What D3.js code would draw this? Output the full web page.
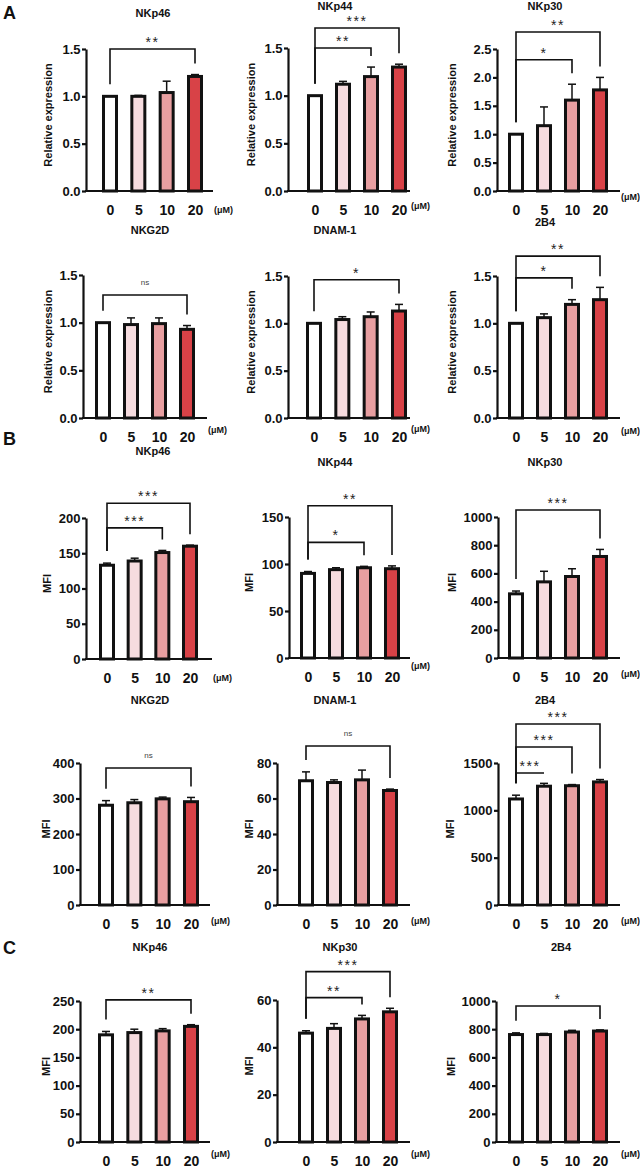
<!DOCTYPE html>
<html>
<head>
<meta charset="utf-8">
<script src="https://cdn.jsdelivr.net/npm/d3@7"></script>
<style>
  body { margin: 0; background: #fff; }
  svg { display: block; font-family: 'Liberation Sans', Arial, sans-serif; }
</style>
</head>
<body>
<svg width="640" height="1168"></svg>
<script>
const doses = ['0', '5', '10', '20'];
const barColors = ['#ffffff', '#f6dcdf', '#e89fa1', '#d84247'];

// A - relative expression
const aTitles = ['NKp46', 'NKp44', 'NKp30', 'NKG2D', 'DNAM-1', '2B4'];
const aMeans = [
  [1.0, 1.0, 1.04, 1.21],
  [1.0, 1.12, 1.2, 1.3],
  [1.0, 1.15, 1.6, 1.78],
  [1.0, 0.98, 0.99, 0.93],
  [1.0, 1.04, 1.07, 1.13],
  [1.0, 1.06, 1.2, 1.25]
];
const aErrors = [
  [0, 0.01, 0.12, 0.02],
  [0, 0.03, 0.1, 0.03],
  [0, 0.33, 0.28, 0.22],
  [0, 0.07, 0.06, 0.04],
  [0, 0.03, 0.05, 0.07],
  [0, 0.04, 0.05, 0.13]
];
const aTicks = [
  [0, 0.5, 1.0, 1.5],
  [0, 0.5, 1.0, 1.5],
  [0, 0.5, 1.0, 1.5, 2.0, 2.5],
  [0, 0.5, 1.0, 1.5],
  [0, 0.5, 1.0, 1.5],
  [0, 0.5, 1.0, 1.5]
];
// [target dose index, label, bracket level]
const aSig = [
  [[3, '**', 1.5]],
  [[2, '**', 1.5], [3, '***', 1.71]],
  [[2, '*', 2.31], [3, '**', 2.8]],
  [[3, 'ns', 1.29]],
  [[3, '*', 1.46]],
  [[2, '*', 1.48], [3, '**', 1.71]]
];

// B - MFI
const bTitles = ['NKp46', 'NKp44', 'NKp30', 'NKG2D', 'DNAM-1', '2B4'];
const bMeans = [
  [133, 139, 151, 160],
  [90, 94, 96, 95],
  [455, 540, 578, 720],
  [281, 288, 299, 291],
  [70, 69, 70.5, 64.5],
  [1120, 1255, 1260, 1300]
];
const bErrors = [
  [3, 4, 3, 1.5],
  [2, 2, 1.5, 3],
  [20, 75, 55, 50],
  [13, 9, 5, 12],
  [5, 1.5, 5.5, 0.8],
  [40, 30, 12, 25]
];
const bTicks = [
  [0, 50, 100, 150, 200],
  [0, 50, 100, 150],
  [0, 200, 400, 600, 800, 1000],
  [0, 100, 200, 300, 400],
  [0, 20, 40, 60, 80],
  [0, 500, 1000, 1500]
];
const bSig = [
  [[2, '***', 186], [3, '***', 221]],
  [[2, '*', 123], [3, '**', 162]],
  [[3, '***', 1050]],
  [[3, 'ns', 386]],
  [[3, 'ns', 89.6]],
  [[1, '***', 1394], [2, '***', 1669], [3, '***', 1912]]
];

// C - MFI
const cTitles = ['NKp46', 'NKp30', '2B4'];
const cMeans = [
  [190, 194, 197, 205],
  [46, 48, 52, 55],
  [762, 762, 780, 787]
];
const cErrors = [
  [6, 6, 4, 3],
  [1, 2, 1.5, 1.5],
  [12, 8, 12, 8]
];
const cTicks = [
  [0, 50, 100, 150, 200, 250],
  [0, 20, 40, 60],
  [0, 200, 400, 600, 800, 1000]
];
const cSig = [
  [[3, '**', 252]],
  [[2, '**', 61], [3, '***', 72]],
  [[3, '*', 965]]
];

// layout of every panel (pixels)
const layoutA = [
  { axisX: 86, top: 49, bottom: 191, bar0: 110, bar3: 195, xEnd: 213, titleX: 153, titleY: 13, labelX: 49, unitY: 209 },
  { axisX: 288, top: 48, bottom: 191, bar0: 315, bar3: 399, xEnd: 410, titleX: 335, titleY: 6, labelX: 252, unitY: 205 },
  { axisX: 497, top: 49, bottom: 191, bar0: 516, bar3: 600, xEnd: 620, titleX: 545, titleY: 6, labelX: 453, unitY: 196 },
  { axisX: 83, top: 275, bottom: 418, bar0: 103, bar3: 187, xEnd: 207, titleX: 150, titleY: 230, labelX: 49, unitY: 429 },
  { axisX: 288, top: 276, bottom: 418, bar0: 314, bar3: 399, xEnd: 410, titleX: 335, titleY: 230, labelX: 252, unitY: 428 },
  { axisX: 497, top: 276, bottom: 418, bar0: 516, bar3: 600, xEnd: 620, titleX: 545, titleY: 222, labelX: 453, unitY: 430 }
];
const layoutB = [
  { axisX: 86, top: 518, bottom: 659, bar0: 107, bar3: 190, xEnd: 212, titleX: 153, titleY: 451, labelX: 48, unitY: 677 },
  { axisX: 289, top: 517, bottom: 658, bar0: 308, bar3: 392, xEnd: 410, titleX: 335, titleY: 462, labelX: 250, unitY: 665 },
  { axisX: 498, top: 517, bottom: 658, bar0: 516, bar3: 600, xEnd: 620, titleX: 545, titleY: 462, labelX: 453, unitY: 673 },
  { axisX: 80, top: 763, bottom: 905, bar0: 106, bar3: 191, xEnd: 210, titleX: 150, titleY: 700, labelX: 47, unitY: 920 },
  { axisX: 277, top: 763, bottom: 905, bar0: 306, bar3: 390, xEnd: 410, titleX: 335, titleY: 700, labelX: 250, unitY: 920 },
  { axisX: 498, top: 763, bottom: 905, bar0: 516, bar3: 600, xEnd: 620, titleX: 545, titleY: 700, labelX: 451, unitY: 920 }
];
const layoutC = [
  { axisX: 80, top: 1001, bottom: 1142, bar0: 106, bar3: 191, xEnd: 210, titleX: 150, titleY: 947, labelX: 47, unitY: 1153 },
  { axisX: 277, top: 1000, bottom: 1142, bar0: 306, bar3: 390, xEnd: 410, titleX: 340, titleY: 947, labelX: 250, unitY: 1153 },
  { axisX: 496, top: 1001, bottom: 1142, bar0: 516, bar3: 600, xEnd: 620, titleX: 561, titleY: 947, labelX: 452, unitY: 1153 }
];

const svg = d3.select('svg');
svg.append('rect').attr('width', 640).attr('height', 1168).attr('fill', '#fff');

const drawPanel = (p) => {
  const yMax = p.ticks[p.ticks.length - 1];
  const yScale = d3.scaleLinear().domain([0, yMax]).range([p.bottom, p.top]);
  const xScale = d3.scalePoint().domain(doses).range([p.bar0, p.bar3]);
  const g = svg.append('g');

  // title
  g.append('text')
    .attr('x', p.titleX).attr('y', p.titleY + 4)
    .attr('text-anchor', 'middle')
    .attr('font-size', 11).attr('font-weight', 'bold')
    .attr('fill', '#111')
    .text(p.title);

  // y axis
  const yAxis = d3.axisLeft(yScale)
    .tickValues(p.ticks)
    .tickFormat(p.fmt)
    .tickSize(4)
    .tickSizeOuter(0)
    .tickPadding(1.5);
  const yG = g.append('g')
    .attr('transform', `translate(${p.axisX},0)`)
    .call(yAxis)
    .attr('font-family', null)
    .attr('font-size', 13)
    .attr('font-weight', 'bold');
  yG.select('.domain').attr('stroke', '#111').attr('stroke-width', 2.2);
  yG.selectAll('.tick line').attr('stroke', '#111').attr('stroke-width', 2.2);
  yG.selectAll('.tick text').attr('fill', '#111');

  // y label
  g.append('text')
    .attr('transform', `translate(${p.labelX},${(p.top + p.bottom) / 2 - 5}) rotate(-90)`)
    .attr('text-anchor', 'middle')
    .attr('dominant-baseline', 'middle')
    .attr('font-size', 11).attr('font-weight', 'bold')
    .attr('fill', '#111')
    .text(p.yLabel);

  // error bars (upper only)
  const errs = p.means.map((m, i) => ({ m, e: p.errors[i], d: doses[i] })).filter(d => d.e > 0);
  g.selectAll('line.err').data(errs).join('line')
    .attr('x1', d => xScale(d.d)).attr('x2', d => xScale(d.d))
    .attr('y1', d => yScale(d.m)).attr('y2', d => yScale(d.m + d.e))
    .attr('stroke', '#111').attr('stroke-width', 1.5);
  g.selectAll('line.cap').data(errs).join('line')
    .attr('x1', d => xScale(d.d) - 4).attr('x2', d => xScale(d.d) + 4)
    .attr('y1', d => yScale(d.m + d.e)).attr('y2', d => yScale(d.m + d.e))
    .attr('stroke', '#111').attr('stroke-width', 1.5);

  // bars
  g.selectAll('rect.bar').data(p.means).join('rect')
    .attr('x', (d, i) => xScale(doses[i]) - 6.5)
    .attr('y', d => yScale(d))
    .attr('width', 13)
    .attr('height', d => p.bottom - yScale(d))
    .attr('fill', (d, i) => barColors[i])
    .attr('stroke', '#111')
    .attr('stroke-width', 3);

  // x axis line
  g.append('line')
    .attr('x1', p.axisX - 1).attr('x2', p.xEnd)
    .attr('y1', p.bottom).attr('y2', p.bottom)
    .attr('stroke', '#111').attr('stroke-width', 2.2);

  const xG = g.append('g')
    .attr('transform', `translate(0,${p.bottom})`)
    .call(d3.axisBottom(xScale).tickSize(0).tickPadding(14))
    .attr('font-family', null)
    .attr('font-size', 14)
    .attr('font-weight', 'bold');
  xG.select('.domain').remove();
  xG.selectAll('.tick text').attr('fill', '#111');

  g.append('text')
    .attr('x', p.xEnd + 1).attr('y', p.unitY + 3.5)
    .attr('font-size', 9).attr('font-weight', 'bold')
    .attr('fill', '#111')
    .text('(μM)');

  // significance brackets
  const barTop = i => yScale(p.means[i] + p.errors[i]);
  p.sig.forEach(([to, label, level]) => {
    const ly = yScale(level);
    const x0 = xScale(doses[0]);
    const x1 = xScale(doses[to]);
    const leftEnd = Math.max(ly, barTop(0) - 12);
    const rightEnd = Math.max(ly, barTop(to) - 11);
    g.append('path')
      .attr('d', `M${x0},${leftEnd}V${ly}H${x1}V${rightEnd}`)
      .attr('fill', 'none')
      .attr('stroke', '#111')
      .attr('stroke-width', 1.6);
    const isNs = label === 'ns';
    g.append('text')
      .attr('x', (x0 + x1) / 2)
      .attr('y', isNs ? ly - 10 : ly - 2)
      .attr('text-anchor', 'middle')
      .attr('font-size', isNs ? 8 : 14)
      .attr('letter-spacing', isNs ? 0 : 1.5)
      .attr('fill', isNs ? '#444' : '#222')
      .text(label);
  });
};

const buildPanels = (titles, means, errors, ticks, sig, layout, yLabel, fmt) =>
  titles.map((t, i) => Object.assign({}, layout[i], {
    title: t, means: means[i], errors: errors[i], ticks: ticks[i], sig: sig[i], yLabel, fmt
  }));

const panels = [
  ...buildPanels(aTitles, aMeans, aErrors, aTicks, aSig, layoutA, 'Relative expression', d3.format('.1f')),
  ...buildPanels(bTitles, bMeans, bErrors, bTicks, bSig, layoutB, 'MFI', d3.format('d')),
  ...buildPanels(cTitles, cMeans, cErrors, cTicks, cSig, layoutC, 'MFI', d3.format('d'))
];
panels.forEach(drawPanel);

// section letters
[['A', 12], ['B', 438], ['C', 947]].forEach(([letter, cy]) => {
  svg.append('text')
    .attr('x', 3).attr('y', cy + 6.5)
    .attr('font-size', 18).attr('font-weight', 'bold')
    .attr('fill', '#111')
    .text(letter);
});
</script>
</body>
</html>
